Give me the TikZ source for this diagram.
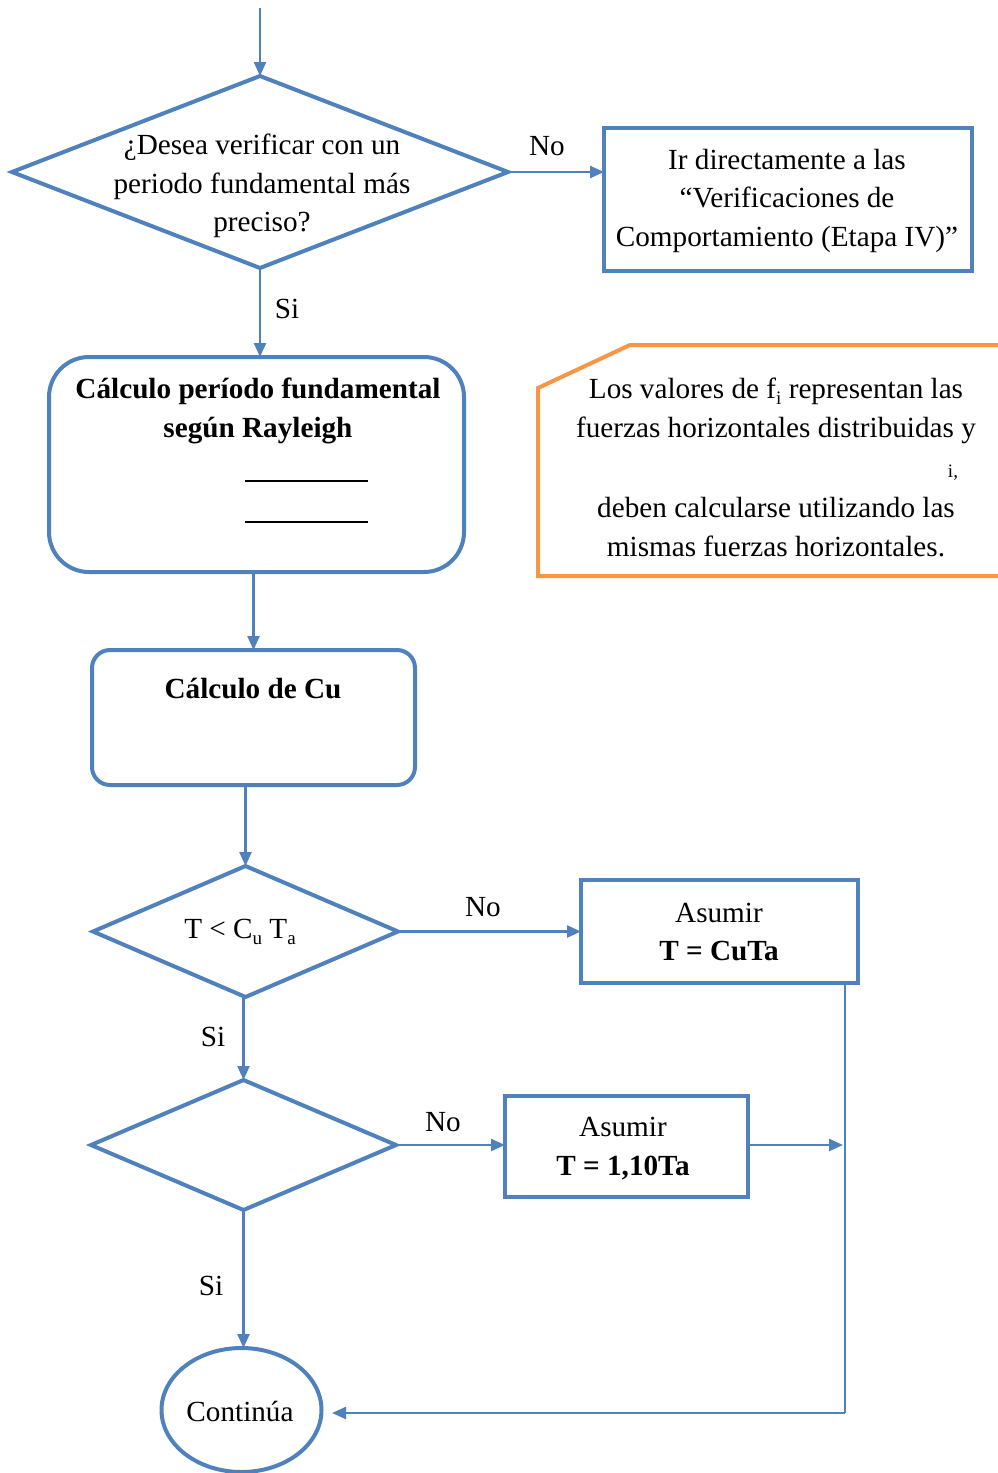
\documentclass[tikz,border=0pt]{standalone}
\usepackage{fontspec}
\setmainfont{Liberation Serif}
\usetikzlibrary{shapes.geometric,arrows.meta}
\definecolor{fblue}{HTML}{4F81BD}
\definecolor{forange}{HTML}{F79646}
\newcommand\sbs[1]{\raisebox{-0.18em}{\fontsize{19}{19}\selectfont #1}}
\begin{document}
\begin{tikzpicture}[x=1pt,y=-1pt,
  every node/.style={font=\fontsize{29.2}{38.5}\selectfont, inner sep=0pt, outer sep=0pt, text=black},
  shapeline/.style={draw=fblue, line width=4pt},
  dia/.style={shapeline, diamond},
  boxr/.style={shapeline, rectangle},
  rbox/.style={shapeline, rectangle, rounded corners=#1},
  conn/.style={draw=fblue, line width=2.4pt, -{Triangle[length=14pt,width=12pt]}},
  plain/.style={draw=fblue, line width=2.4pt},
  txt/.style={align=center}]
\useasboundingbox (0,0) rectangle (998,1473);

% shapes
\node[dia, minimum width=496, minimum height=192] (d1) at (260,172) {};
\node[txt] (d1t) at (262,186) {¿Desea verificar con un\\periodo fundamental más\\preciso?};
\node[boxr, minimum width=368, minimum height=143] (ir) at (788,199) {};
\node[txt] (irt) at (787,200.5) {Ir directamente a las\\“Verificaciones de\\Comportamiento (Etapa IV)”};

\node[rbox=40pt, minimum width=415, minimum height=215] (ray) at (256.5,464.5) {};
\node[txt, font=\fontsize{29.2}{38.5}\selectfont\bfseries] (rayt) at (258,411) {Cálculo período fundamental\\según Rayleigh};
\draw[black, line width=2pt] (245,481) -- (368,481);
\draw[black, line width=2pt] (245,522) -- (368,522);

% note
\draw[forange, line width=4pt] (1010,345) -- (630,345) -- (538,388) -- (538,576) -- (1010,576);
\node[txt] (n1) at (776,411) {Los valores de f\sbs{i} representan las\\fuerzas horizontales distribuidas y};
\node (n2) at (953,473) {\fontsize{19}{19}\selectfont i,};
\node[txt] (n3) at (776,527) {deben calcularse utilizando las\\mismas fuerzas horizontales.};

\node[rbox=18pt, minimum width=323, minimum height=135] (cu) at (253.5,717.5) {};
\node[font=\fontsize{29.2}{38.5}\selectfont\bfseries] (cut) at (253,689) {Cálculo de Cu};

\node[dia, minimum width=305, minimum height=131] (d2) at (245.5,931.5) {};
\node (d2t) at (240,932) {T < C\sbs{u} T\sbs{a}};
\node[boxr, minimum width=277, minimum height=103] (a1) at (719.5,931.5) {};
\node[txt] (a1t) at (719,932) {Asumir\\\textbf{T = CuTa}};

\node[dia, minimum width=305, minimum height=130] (d3) at (243.5,1145) {};
\node[boxr, minimum width=243, minimum height=101] (a2) at (626.5,1146.5) {};
\node[txt] (a2t) at (623,1148.5) {Asumir\\\textbf{T = 1,10Ta}};

\node[shapeline, ellipse, minimum width=160, minimum height=124] (cont) at (241.5,1410) {};
\node (contt) at (240,1411) {Continúa};

% connectors
\coordinate (start) at (260,8);
\draw[conn] (start) -- (d1.north);
\draw[conn] (d1.east) -- (d1.east -| ir.west);
\node (no1) at (547,146) {No};
\draw[conn] (d1.south) -- (ray.north -| d1.south);
\node (si1) at (287,309) {Si};
\draw[conn] (cu.north |- ray.south) -- (cu.north);
\draw[conn] (d2.north |- cu.south) -- (d2.north);
\draw[conn] (d2.east) -- (d2.east -| a1.west);
\node (no2) at (483,907) {No};
\draw[conn] (d3.north |- d2.south) -- (d3.north);
\node (si2) at (213,1037) {Si};
\draw[conn] (d3.east) -- (d3.east -| a2.west);
\node (no3) at (443,1122) {No};
\coordinate (vtop) at (845,983);
\coordinate (vjoin) at (843,1145);
\coordinate (vbot) at (845,1413);
\coordinate (cend) at (332,1413);
\draw[plain] (vtop) -- (vbot);
\draw[conn] (a2.east |- vjoin) -- (vjoin);
\draw[conn] (vbot) -- (cend);
\draw[conn] (d3.south) -- (cont.north -| d3.south);
\node (si3) at (211,1286) {Si};
\end{tikzpicture}
\end{document}
